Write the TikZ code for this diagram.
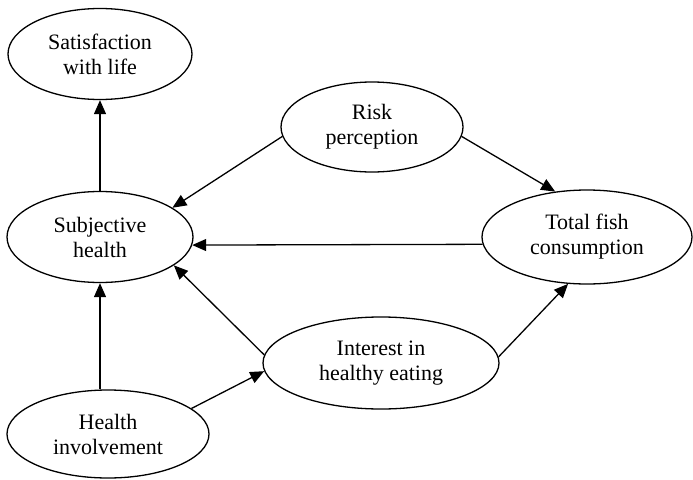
\documentclass[tikz,border=0pt]{standalone}
\usepackage{fontspec}
\setmainfont{Liberation Serif}
\usetikzlibrary{shapes.geometric,arrows.meta}
\begin{document}
\begin{tikzpicture}[x=1pt,y=-1pt,
  latent/.style={ellipse,draw,line width=1.3pt,inner sep=0pt,align=center,
    font=\fontsize{22}{25}\selectfont},
  arr/.style={line width=1.3pt,-{Triangle[length=14pt,width=12pt]}}]
\useasboundingbox (0,0) rectangle (693,479);
\node[latent,minimum width=184pt,minimum height=91pt] (sat) at (100,54) {Satisfaction\\with life};
\node[latent,minimum width=186pt,minimum height=91pt] (subj) at (100,237) {Subjective\\health};
\node[latent,minimum width=182pt,minimum height=90pt] (risk) at (372,127) {Risk\\perception};
\node[latent,minimum width=210pt,minimum height=94pt] (total) at (587,237) {Total fish\\consumption};
\node[latent,minimum width=236pt,minimum height=92pt] (int) at (381,363) {Interest in\\healthy eating};
\node[latent,minimum width=202pt,minimum height=88pt] (hinv) at (108,434) {Health\\involvement};
\draw[arr] (subj.north) -- (sat.south);
\draw[arr] (hinv.north -| subj.south) -- (subj.south);
\draw[arr] (risk.186) -- (subj.22);
\draw[arr] (risk.-6) -- (total.125);
\draw[arr] (total.184.4) -- (subj.-5);
\draw[arr] (int.176) -- (subj.-21);
\draw[arr] (hinv.17) -- (int.184);
\draw[arr] (int.3) -- (total.-112);
\end{tikzpicture}
\end{document}
